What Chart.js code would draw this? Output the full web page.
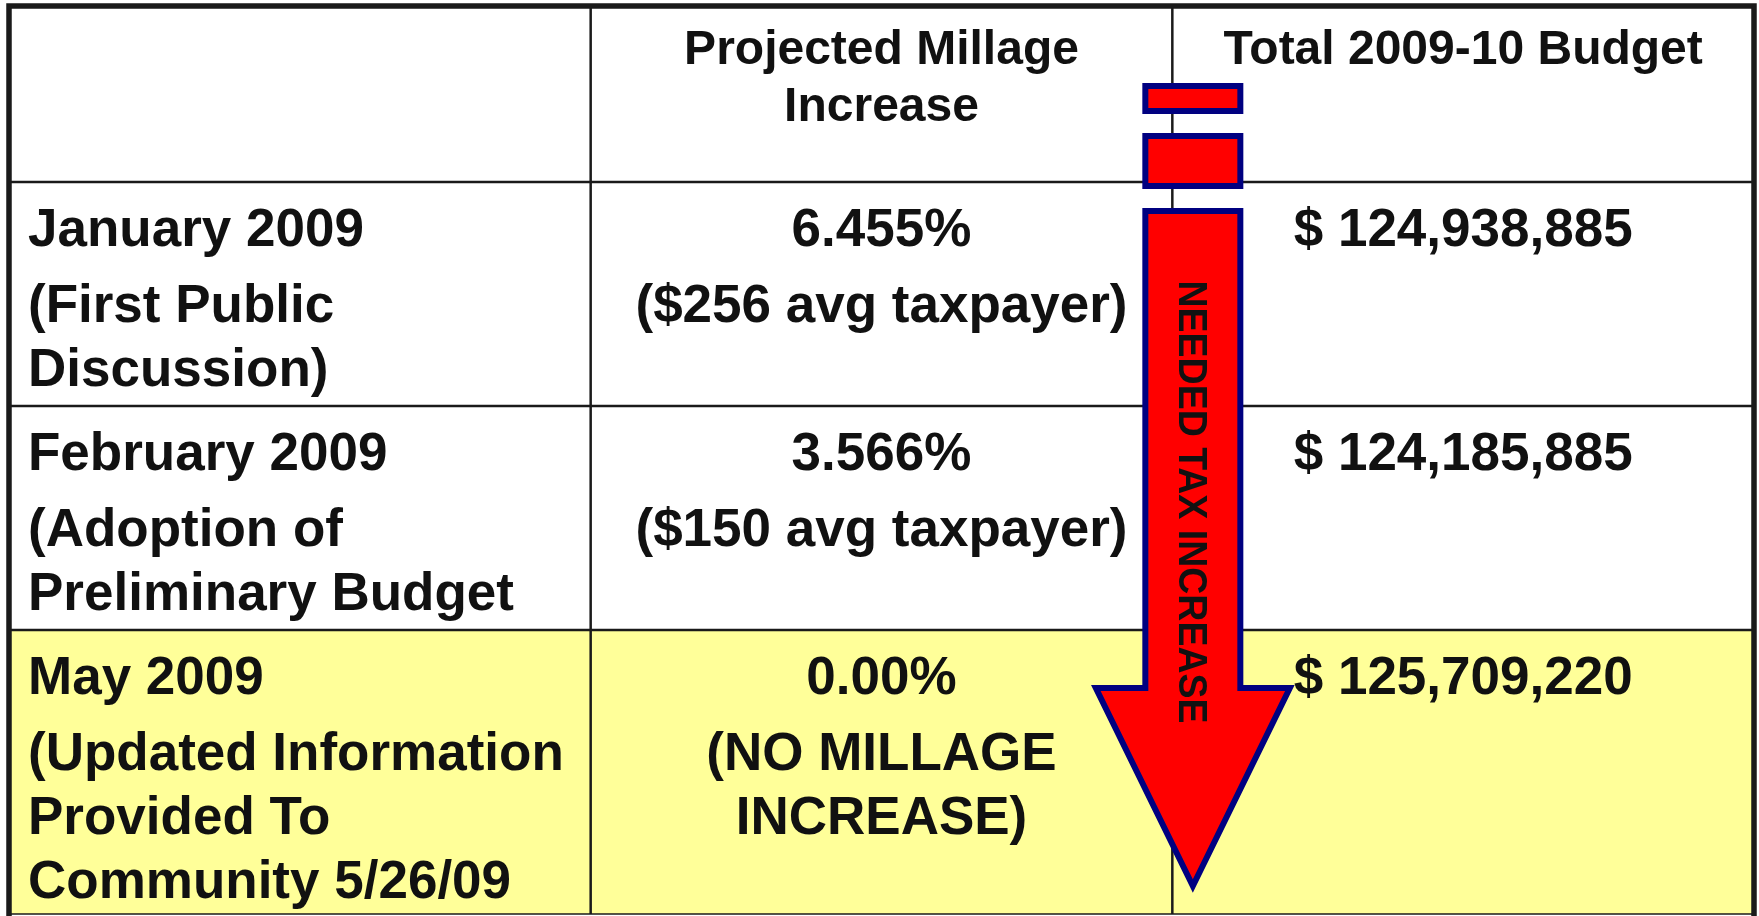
<!DOCTYPE html>
<html>
<head>
<meta charset="utf-8">
<script src="https://cdn.jsdelivr.net/npm/chart.js@4"></script>
<style>
    html, body { margin: 0; padding: 0; background: #fff; }
    canvas { display: block; }
</style>
</head>
<body>
<canvas id="budgetTable" width="1759" height="916"></canvas>
<script>
// Table content
const headers = [[], ['Projected Millage', 'Increase'], ['Total 2009-10 Budget']];
const periods = ['January 2009', 'February 2009', 'May 2009'];
const periodNotes = [
    ['(First Public', 'Discussion)'],
    ['(Adoption of', 'Preliminary Budget'],
    ['(Updated Information', 'Provided To', 'Community 5/26/09']
];
const millageRates = ['6.455%', '3.566%', '0.00%'];
const millageNotes = [['($256 avg taxpayer)'], ['($150 avg taxpayer)'], ['(NO MILLAGE', 'INCREASE)']];
const budgets = ['$ 124,938,885', '$ 124,185,885', '$ 125,709,220'];
const highlighted = [false, false, true];
const arrowLabel = 'NEEDED TAX INCREASE';

// Layout (y in table units, top of table = 0)
const rowEdges = [0, 176, 400, 624, 908];
const headerLineOffsets = [41, 98];
const bodyLineOffsets = [45, 121, 185, 249];
const fontFamily = '"Liberation Sans", Arial, Helvetica, sans-serif';

const rows = periods.map((p, i) => [[p, ...periodNotes[i]], [millageRates[i], ...millageNotes[i]], [budgets[i]]]);

const tablePlugin = {
    id: 'tablePlugin',
    beforeDatasetsDraw(chart) {
        const ctx = chart.ctx;
        const xs = chart.scales.x;
        const ys = chart.scales.y;
        const X = v => xs.getPixelForValue(v);
        const Y = v => ys.getPixelForValue(v);
        const bottom = rowEdges[rowEdges.length - 1];

        ctx.save();
        ctx.fillStyle = '#ffffff';
        ctx.fillRect(0, 0, chart.width, chart.height);

        // highlighted rows
        highlighted.forEach((h, i) => {
            if (!h) return;
            ctx.fillStyle = '#ffff99';
            ctx.fillRect(X(0), Y(rowEdges[i + 1]), X(3) - X(0), Y(rowEdges[i + 2]) - Y(rowEdges[i + 1]));
        });

        // inner grid
        ctx.strokeStyle = '#1a1a1a';
        ctx.lineWidth = 2.5;
        [1, 2].forEach(c => {
            ctx.beginPath();
            ctx.moveTo(X(c), Y(0));
            ctx.lineTo(X(c), Y(bottom));
            ctx.stroke();
        });
        rowEdges.slice(1, -1).forEach(r => {
            ctx.beginPath();
            ctx.moveTo(X(0), Y(r));
            ctx.lineTo(X(3), Y(r));
            ctx.stroke();
        });

        // bottom edge is cut off in the slide, only a thin line shows
        ctx.lineWidth = 1.5;
        ctx.beginPath();
        ctx.moveTo(X(0), Y(bottom));
        ctx.lineTo(X(3), Y(bottom));
        ctx.stroke();

        // outer border (left, top, right)
        ctx.lineWidth = 5.5;
        ctx.beginPath();
        ctx.moveTo(X(0), Y(bottom) + 2);
        ctx.lineTo(X(0), Y(0));
        ctx.lineTo(X(3), Y(0));
        ctx.lineTo(X(3), Y(bottom) + 2);
        ctx.stroke();

        // text
        ctx.fillStyle = '#111111';
        ctx.textBaseline = 'alphabetic';
        const drawCell = (lines, col, rowTop, offsets, size) => {
            ctx.font = 'bold ' + size + 'px ' + fontFamily;
            lines.forEach((line, k) => {
                const y = Y(rowTop + offsets[k]) + size * 0.358;
                if (col === 0) {
                    ctx.textAlign = 'left';
                    ctx.fillText(line, X(0) + 19, y);
                } else {
                    ctx.textAlign = 'center';
                    ctx.fillText(line, X(col + 0.5), y);
                }
            });
        };
        headers.forEach((lines, c) => drawCell(lines, c, rowEdges[0], headerLineOffsets, 48));
        rows.forEach((cells, r) => {
            cells.forEach((lines, c) => drawCell(lines, c, rowEdges[r + 1], bodyLineOffsets, 53));
        });

        // arrow along the second column line
        const cx = X(2) + 20.5;
        const half = 47.5;
        const headHalf = 97;
        ctx.fillStyle = '#ff0000';
        ctx.strokeStyle = '#000080';
        ctx.lineWidth = 6;
        ctx.lineJoin = 'miter';
        [[80, 105], [130, 180]].forEach(([a, b]) => {
            ctx.fillRect(cx - half, Y(a), half * 2, Y(b) - Y(a));
            ctx.strokeRect(cx - half, Y(a), half * 2, Y(b) - Y(a));
        });
        ctx.beginPath();
        ctx.moveTo(cx - half, Y(205));
        ctx.lineTo(cx + half, Y(205));
        ctx.lineTo(cx + half, Y(682));
        ctx.lineTo(cx + headHalf, Y(682));
        ctx.lineTo(cx, Y(880));
        ctx.lineTo(cx - headHalf, Y(682));
        ctx.lineTo(cx - half, Y(682));
        ctx.closePath();
        ctx.fill();
        ctx.stroke();

        ctx.save();
        ctx.translate(cx, Y(496));
        ctx.rotate(Math.PI / 2);
        ctx.fillStyle = '#111111';
        ctx.font = 'bold 40px ' + fontFamily;
        ctx.textAlign = 'center';
        ctx.fillText(arrowLabel, 0, 40 * 0.358, 443);
        ctx.restore();

        ctx.restore();
    }
};

const chart = new Chart(document.getElementById('budgetTable'), {
    type: 'scatter',
    data: {
        datasets: [{
            data: rows.map((r, i) => ({ x: 0.5, y: (rowEdges[i + 1] + rowEdges[i + 2]) / 2 })),
            pointRadius: 0
        }]
    },
    options: {
        responsive: false,
        devicePixelRatio: 1,
        animation: false,
        events: [],
        layout: { padding: { left: 9, top: 6, right: 5, bottom: 2 } },
        plugins: { legend: { display: false }, tooltip: { enabled: false } },
        scales: {
            x: { type: 'linear', min: 0, max: 3, display: false },
            y: { type: 'linear', min: 0, max: 908, reverse: true, display: false }
        }
    },
    plugins: [tablePlugin]
});
</script>
</body>
</html>
